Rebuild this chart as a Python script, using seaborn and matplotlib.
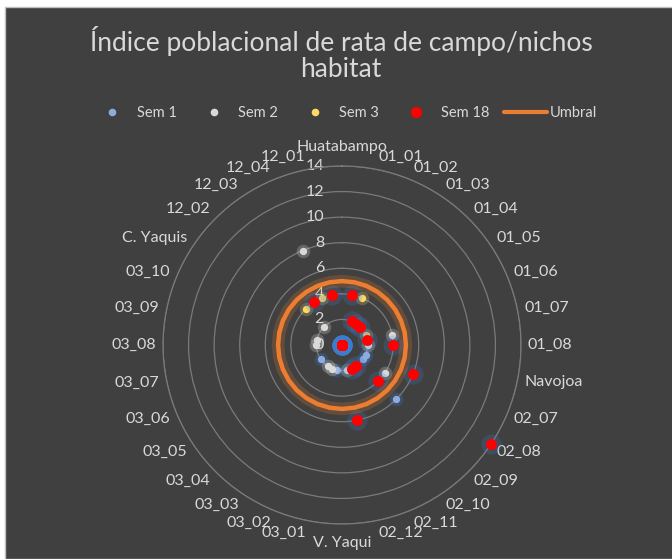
import numpy as np
import pandas as pd
import matplotlib
matplotlib.use("Agg")
import matplotlib.pyplot as plt
from matplotlib.lines import Line2D
from matplotlib.patches import Rectangle
import seaborn as sns

# ---------------- data ----------------
categories = ["Huatabampo", "01_01", "01_02", "01_03", "01_04", "01_05", "01_06",
              "01_07", "01_08", "Navojoa", "02_07", "02_08", "02_09", "02_10",
              "02_11", "02_12", "V. Yaqui", "03_01", "03_02", "03_03", "03_04",
              "03_05", "03_06", "03_07", "03_08", "03_09", "03_10", "C. Yaquis",
              "12_02", "12_03", "12_04", "12_01"]

sem1 = [0, 0, 0, 0, 0, 0, 0, 0, 0, 0, 2, 2, 6, 0, 0, 0,
        0, 2, 0, 0, 0, 2, 0, 0, 0, 0, 0, 0, 0, 0, 0, 0]
sem2 = [0, 0, 0, 0, 0, 0, 0, 4, 2, 0, 0, 4, 0, 0, 0, 2,
        0, 0, 2, 2, 0, 0, 0, 0, 2, 2, 0, 0, 2, 0, 8, 0]
sem3 = [0, 0, 4, 0, 0, 0, 2, 0, 0, 0, 0, 0, 0, 0, 0, 0,
        0, 0, 0, 0, 0, 0, 0, 0, 0, 0, 0, 0, 4, 0, 4, 0]
sem18 = [0, 4, 2, 2, 2, 0, 0, 2, 4, 0, 6, 14, 4, 2, 2, 6,
         0, 0, 0, 0, 0, 0, 0, 0, 0, 0, 0, 0, 0, 4, 0, 4]
umbral = [5] * len(categories)

series_names = ["Sem 1", "Sem 2", "Sem 3", "Sem 18"]
series_values = [sem1, sem2, sem3, sem18]
radial_ticks = [0, 2, 4, 6, 8, 10, 12, 14]
title_lines = ["Índice poblacional de rata de campo/nichos", "habitat"]

# ---------------- style ----------------
sns.set_theme(style="dark")
plt.rcParams["font.family"] = ["Lato", "DejaVu Sans"]

BG = "#404040"
TXT = "#D9D9D9"
GRID = "#7A7A7A"
colors = {"Sem 1": "#8FAADC", "Sem 2": "#D9D9D9", "Sem 3": "#FFD966", "Sem 18": "#FF0000"}
glow = {"Sem 1": "#2F8BF0", "Sem 2": "#F2F2F2", "Sem 3": "#FFE07A", "Sem 18": "#3D7FD0"}
sizes = {"Sem 1": 28, "Sem 2": 28, "Sem 3": 28, "Sem 18": 62}
ORANGE = "#ED7D31"

W, H = 672, 559
fig = plt.figure(figsize=(W / 100, H / 100), dpi=100, facecolor="white")
fig.patches.append(Rectangle((5 / W, 0), 1, 1 - 7 / H, transform=fig.transFigure,
                             facecolor=BG, edgecolor="#BFBFBF", lw=1, zorder=-10))

cx, cy, R = 342, 345, 179
ax = fig.add_axes([(cx - R) / W, (H - cy - R) / H, 2 * R / W, 2 * R / H],
                  projection="polar")
ax.set_facecolor("none")
ax.set_theta_zero_location("N")
ax.set_theta_direction(-1)

n = len(categories)
theta = np.deg2rad(np.arange(n) * 360.0 / n)

rows = []
for name, vals in zip(series_names, series_values):
    for t, v, c in zip(theta, vals, categories):
        rows.append({"series": name, "theta": t, "value": v, "category": c})
df = pd.DataFrame(rows)

for z, name in enumerate(series_names):
    sub = df[df["series"] == name]
    # soft glow behind each marker
    sns.scatterplot(data=sub, x="theta", y="value", ax=ax, color=glow[name],
                    s=sizes[name] * 3.4, alpha=0.22, linewidth=0, legend=False,
                    zorder=3 + z, clip_on=False)
    sns.scatterplot(data=sub, x="theta", y="value", ax=ax, color=colors[name],
                    s=sizes[name], linewidth=0, legend=False, zorder=3.5 + z,
                    clip_on=False)

th_closed = np.append(theta, theta[0])
um_closed = np.append(umbral, umbral[0])
ax.plot(th_closed, um_closed, color=ORANGE, lw=9, alpha=0.22, zorder=8,
        solid_capstyle="round")
ax.plot(th_closed, um_closed, color=ORANGE, lw=3.2, zorder=9)

ax.set_ylim(0, 14)
ax.set_yticks(radial_ticks)
ax.set_yticklabels([])
ax.set_xticks(theta)
ax.set_xticklabels([])
ax.set_xlabel("")
ax.set_ylabel("")
ax.xaxis.grid(False)
ax.yaxis.grid(True, color=GRID, lw=0.9)
ax.spines["polar"].set_color(GRID)
ax.spines["polar"].set_linewidth(0.9)
ax.tick_params(length=0)

# radial tick labels
for v in radial_ticks:
    ax.annotate(str(v), xy=(0, v), xytext=(-18, 0), textcoords="offset pixels",
                ha="right", va="center", color=TXT, fontsize=11.5,
                annotation_clip=False, zorder=2)

# category labels
for t, lab in zip(theta, categories):
    s, c = np.sin(t), np.cos(t)
    d = 7
    dx = d * s
    dy = c * (d + 6)
    if abs(s) < 0.05:
        ha = "center"
        dy = c * 19
    elif s > 0:
        ha = "left"
    else:
        ha = "right"
    ax.annotate(lab, xy=(t, 14), xytext=(dx, dy), textcoords="offset pixels",
                ha=ha, va="center", color=TXT, fontsize=11.5,
                annotation_clip=False)

# title
fig.text(341 / W, 1 - 41 / H, title_lines[0], ha="center", va="center",
         color=TXT, fontsize=19)
fig.text(341 / W, 1 - 70 / H, title_lines[1], ha="center", va="center",
         color=TXT, fontsize=19)

# legend
handles = [Line2D([], [], ls="none", marker="o", markersize=5.5 if nm != "Sem 18" else 8,
                  markerfacecolor=colors[nm], markeredgewidth=0) for nm in series_names]
handles.append(Line2D([], [], color=ORANGE, lw=3))
fig.legend(handles, series_names + ["Umbral"], loc="center", ncol=5,
           bbox_to_anchor=(344 / W, 1 - 113 / H), frameon=False,
           labelcolor=TXT, fontsize=10.5, handlelength=3.0, handletextpad=0.2,
           columnspacing=1.0)

fig.savefig("out.png", dpi=100, facecolor=fig.get_facecolor())
